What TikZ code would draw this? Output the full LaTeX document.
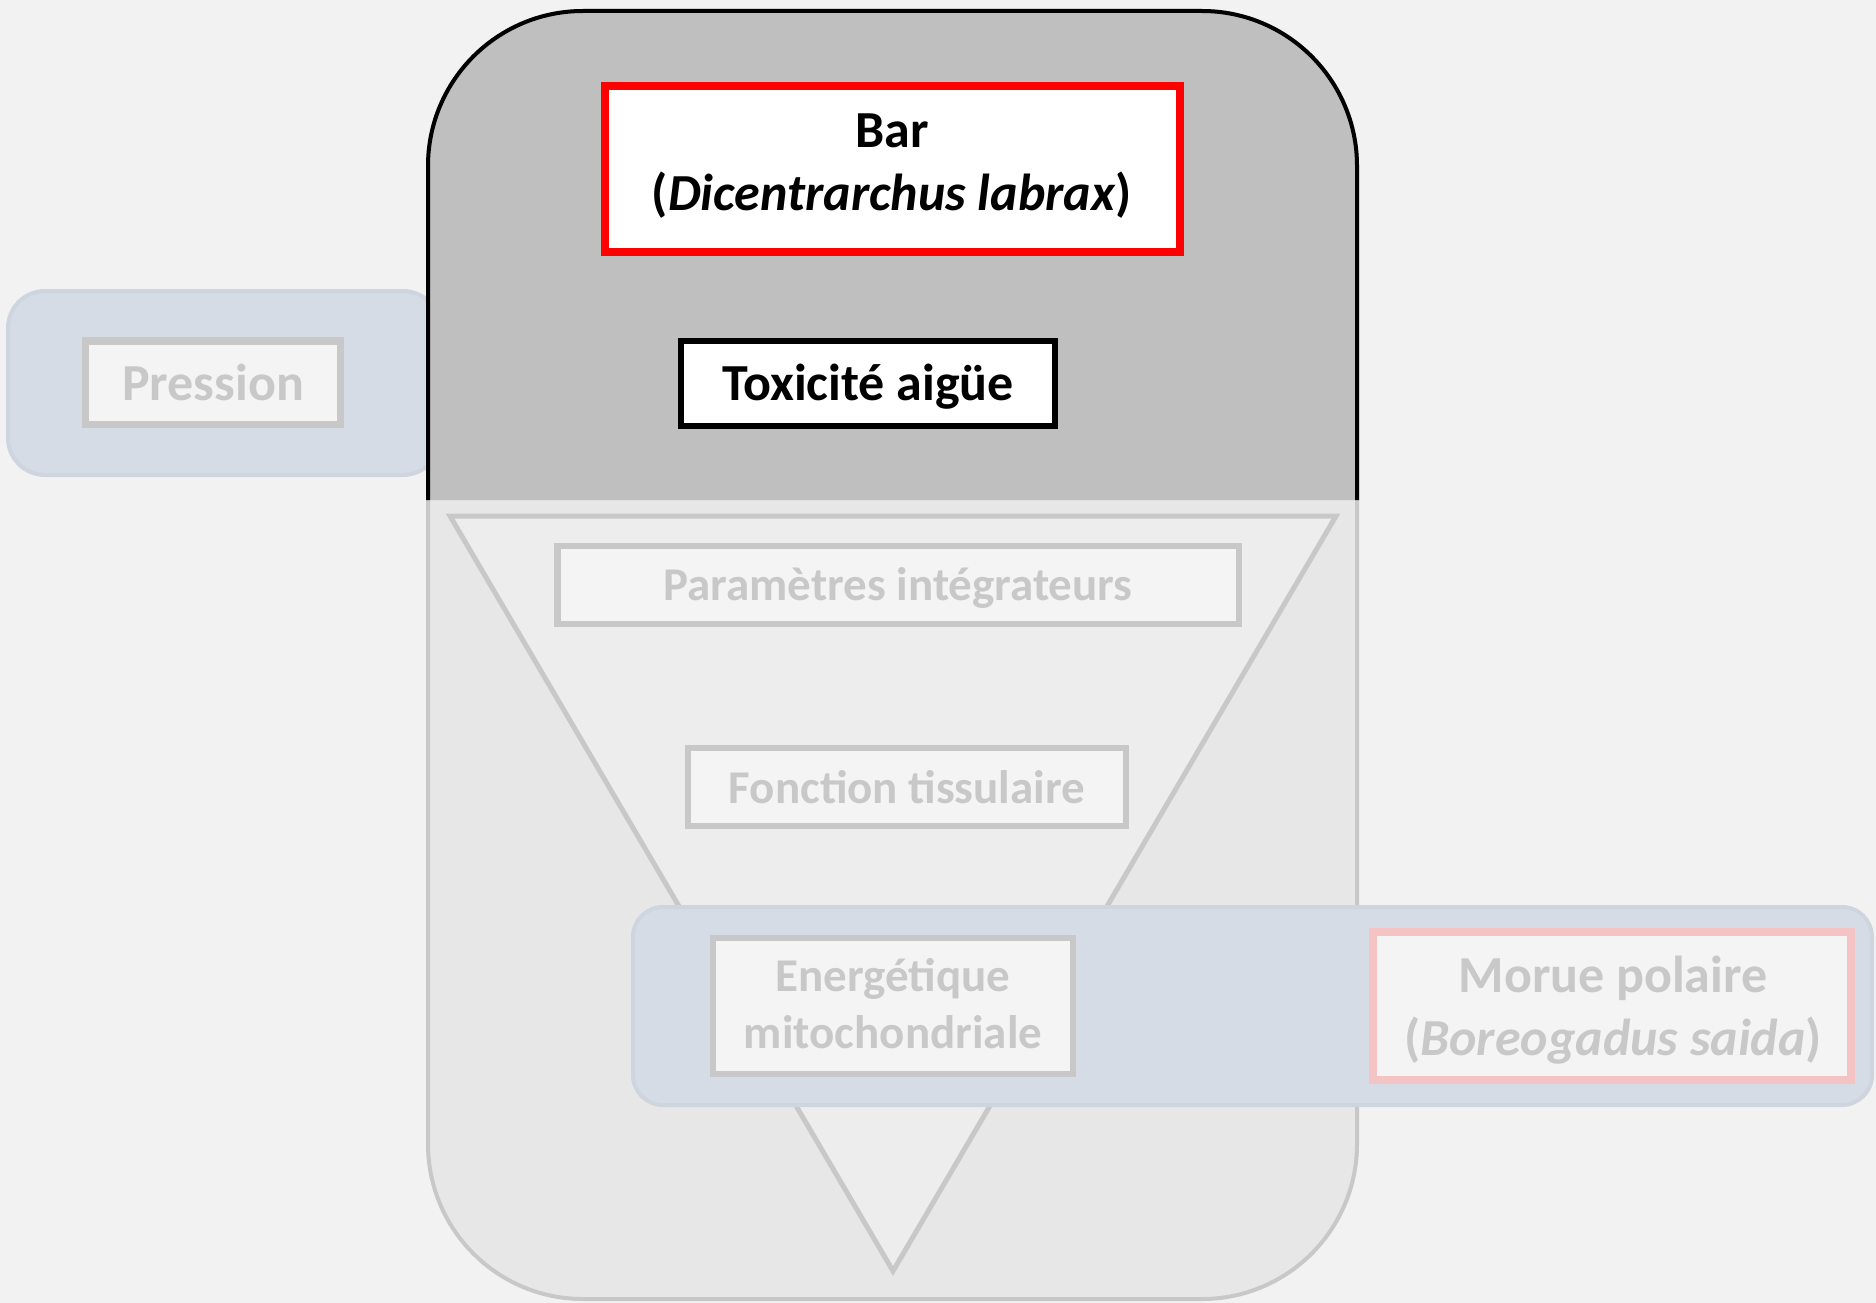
\documentclass[tikz,border=0pt]{standalone}
\usepackage{fontspec}
\setmainfont{Carlito}
\usepackage{tikz}

\definecolor{bggray}{HTML}{F2F2F2}
\definecolor{topgray}{HTML}{BFBFBF}
\definecolor{lowgray}{HTML}{E7E7E7}
\definecolor{fadeline}{HTML}{C8C8C8}
\definecolor{trigray}{HTML}{EDEDED}
\definecolor{boxfill}{HTML}{F4F4F4}
\definecolor{bandblue}{HTML}{D6DCE5}
\definecolor{bandline}{HTML}{CED5DF}
\definecolor{fadered}{HTML}{F4C3C3}

\tikzset{
  bigtext/.style={font=\fontsize{52}{63}\selectfont\bfseries, align=center},
  smalltext/.style={font=\fontsize{47}{57}\selectfont\bfseries, align=center},
  fadebox/.style={fill=boxfill, draw=fadeline, line width=6.5pt},
  band/.style={fill=bandblue, draw=bandline, line width=4pt}
}

\begin{document}
\begin{tikzpicture}[x=1pt,y=-1pt]
  \useasboundingbox (0,0) rectangle (1876,1303);
  \filldraw[fill=bggray, draw=none] (0,0) rectangle (1876,1303);
  \filldraw[band, rounded corners=37pt] (8,291) rectangle (440,475);
  \filldraw[fill=lowgray, draw=fadeline, line width=4pt, rounded corners=155pt] (428,11) rectangle (1357,1299);
  \filldraw[fill=topgray, draw=black, line width=4pt, rounded corners=155pt] (428,500) -- (428,11) -- (1357,11) -- (1357,500);
  \filldraw[fill=trigray, draw=fadeline, line width=5pt] (450,516) -- (1336,516) -- (893,1271) -- cycle;
  \filldraw[fadebox] (557.5,546) rectangle (1239,624);
  \node[smalltext, text=fadeline, anchor=base] (parametres) at (898,600) {Paramètres intégrateurs};
  \filldraw[fadebox] (688,748) rectangle (1126,826);
  \node[smalltext, text=fadeline, anchor=base] (fonction) at (907,803) {Fonction tissulaire};
  \filldraw[fill=white, draw=red, line width=8pt] (605,86) rectangle (1179.5,252);
  \node[bigtext] (bar) at (892,166) {Bar\\(\textit{Dicentrarchus labrax})};
  \filldraw[fill=white, draw=black, line width=6pt] (680.5,341) rectangle (1055,425.5);
  \node[bigtext, anchor=base] (toxicite) at (868,400) {Toxicité aigüe};
  \filldraw[fadebox, line width=7.5pt] (85.5,341) rectangle (340.5,424.5);
  \node[bigtext, text=fadeline, anchor=base] (pression) at (213,400) {Pression};
  \filldraw[band, rounded corners=30pt] (633,907) rectangle (1872,1105);
  \filldraw[fadebox] (713,938) rectangle (1073,1074);
  \node[smalltext, text=fadeline] (energetique) at (893,1004) {Energétique\\mitochondriale};
  \filldraw[fill=boxfill, draw=fadered, line width=8pt] (1373,932) rectangle (1851,1080);
  \node[bigtext, text=fadeline] (morue) at (1613,1010) {Morue polaire\\(\textit{Boreogadus saida})};
\end{tikzpicture}
\end{document}
